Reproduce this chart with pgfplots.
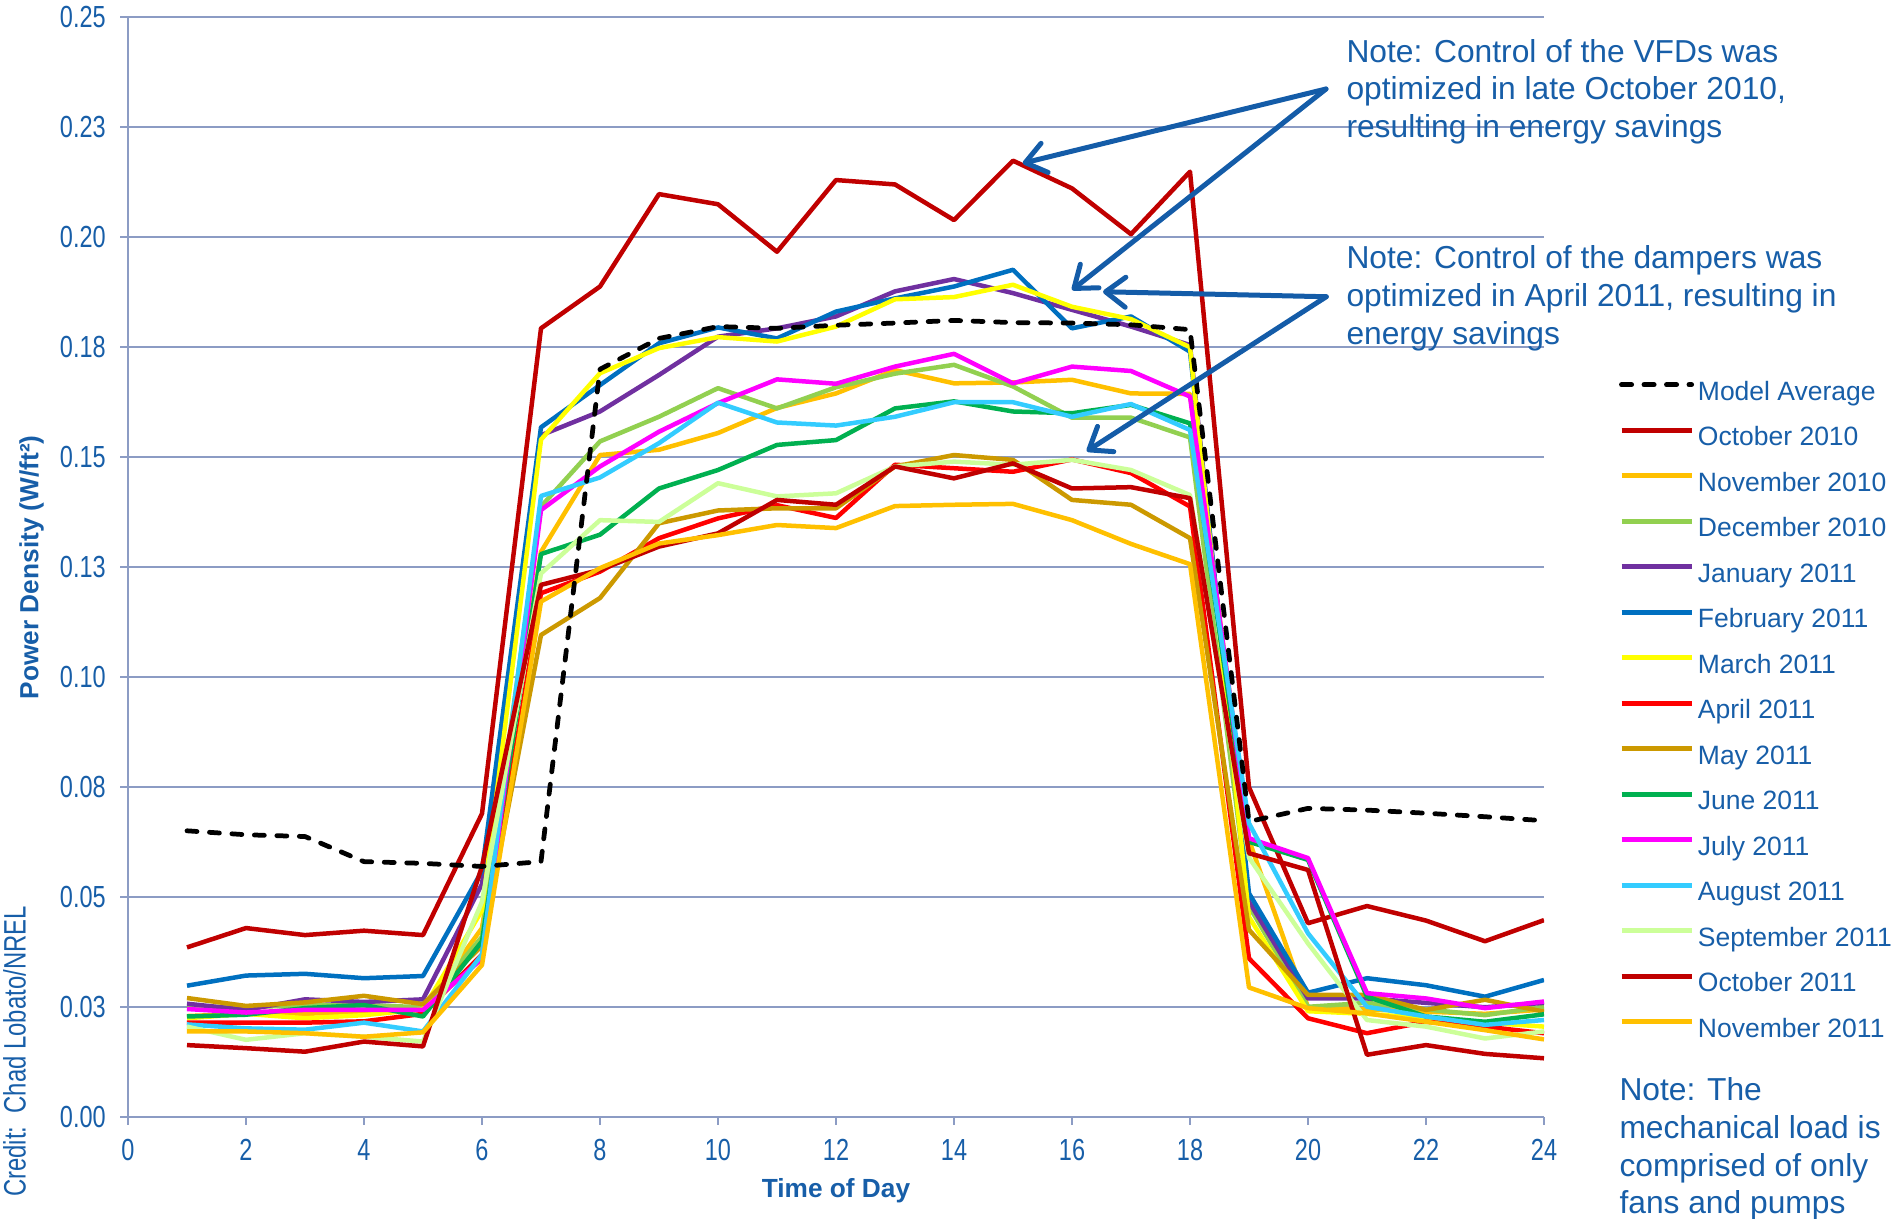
\documentclass[border=0pt]{standalone}
\usepackage{fontspec}
\setmainfont{Liberation Sans}
\newfontfamily\narrowfont[FakeStretch=0.77]{Liberation Sans}
\usepackage{pgfplots}
\pgfplotsset{compat=1.18}
\usepackage{pgfplotstable}
\usetikzlibrary{arrows.meta}

\definecolor{txtblue}{RGB}{23,94,168}
\definecolor{arrowc}{RGB}{20,92,168}
\definecolor{gridc}{RGB}{140,156,196}
\definecolor{oct}{RGB}{192,0,0}
\definecolor{nov}{RGB}{255,192,0}
\definecolor{dec}{RGB}{146,208,80}
\definecolor{jan}{RGB}{112,48,160}
\definecolor{feb}{RGB}{0,112,192}
\definecolor{mar}{RGB}{255,255,0}
\definecolor{apr}{RGB}{255,0,0}
\definecolor{may}{RGB}{204,153,0}
\definecolor{jun}{RGB}{0,176,80}
\definecolor{jul}{RGB}{255,0,255}
\definecolor{aug}{RGB}{51,204,255}
\definecolor{sep}{RGB}{204,255,153}

% hourly mechanical power density, W/ft2
\pgfplotstableread{
h  model  oct10  nov10  dec10  jan11  feb11  mar11  apr11  may11  jun11  jul11  aug11  sep11  oct11  nov11
1  0.0651 0.0386 0.0230 0.0252 0.0258 0.0299 0.0225 0.0215 0.0271 0.0229 0.0246 0.0211 0.0206 0.0164 0.0195
2  0.0642 0.0430 0.0235 0.0250 0.0244 0.0322 0.0235 0.0215 0.0253 0.0233 0.0238 0.0202 0.0176 0.0157 0.0195
3  0.0638 0.0414 0.0235 0.0255 0.0268 0.0326 0.0225 0.0215 0.0261 0.0248 0.0244 0.0199 0.0191 0.0149 0.0191
4  0.0581 0.0424 0.0240 0.0255 0.0262 0.0316 0.0232 0.0218 0.0276 0.0255 0.0244 0.0215 0.0183 0.0172 0.0183
5  0.0577 0.0414 0.0245 0.0250 0.0268 0.0321 0.0245 0.0235 0.0257 0.0229 0.0244 0.0195 0.0172 0.0161 0.0193
6  0.0570 0.0690 0.0430 0.0410 0.0530 0.0560 0.0470 0.0370 0.0390 0.0400 0.0360 0.0370 0.0490 0.0570 0.0346
7  0.0581 0.1793 0.1285 0.1388 0.1550 0.1568 0.1540 0.1191 0.1096 0.1280 0.1380 0.1412 0.1236 0.1210 0.1172
8  0.1700 0.1888 0.1505 0.1536 0.1604 0.1664 0.1691 0.1240 0.1180 0.1324 0.1479 0.1454 0.1357 0.1244 0.1248
9  0.1770 0.2098 0.1517 0.1592 0.1687 0.1759 0.1748 0.1316 0.1350 0.1429 0.1558 0.1532 0.1353 0.1297 0.1304
10 0.1797 0.2075 0.1555 0.1657 0.1774 0.1795 0.1773 0.1361 0.1379 0.1471 0.1623 0.1624 0.1441 0.1327 0.1323
11 0.1793 0.1967 0.1612 0.1611 0.1793 0.1770 0.1763 0.1391 0.1384 0.1528 0.1677 0.1579 0.1411 0.1403 0.1346
12 0.1800 0.2130 0.1645 0.1659 0.1820 0.1831 0.1797 0.1362 0.1384 0.1539 0.1667 0.1572 0.1418 0.1392 0.1339
13 0.1805 0.2120 0.1698 0.1690 0.1877 0.1861 0.1859 0.1483 0.1479 0.1611 0.1706 0.1592 0.1479 0.1479 0.1389
14 0.1811 0.2039 0.1668 0.1710 0.1905 0.1888 0.1864 0.1475 0.1505 0.1627 0.1735 0.1625 0.1490 0.1452 0.1392
15 0.1806 0.2174 0.1670 0.1661 0.1873 0.1926 0.1892 0.1467 0.1494 0.1604 0.1668 0.1625 0.1483 0.1486 0.1394
16 0.1805 0.2111 0.1676 0.1590 0.1835 0.1793 0.1842 0.1495 0.1403 0.1600 0.1706 0.1592 0.1494 0.1429 0.1357
17 0.1801 0.2007 0.1645 0.1590 0.1797 0.1820 0.1814 0.1464 0.1392 0.1619 0.1696 0.1621 0.1471 0.1432 0.1303
18 0.1790 0.2149 0.1644 0.1545 0.1755 0.1740 0.1750 0.1388 0.1316 0.1577 0.1638 0.1562 0.1414 0.1407 0.1257
19 0.0672 0.0750 0.0630 0.0480 0.0490 0.0509 0.0455 0.0361 0.0426 0.0626 0.0634 0.0668 0.0590 0.0600 0.0295
20 0.0702 0.0441 0.0250 0.0251 0.0270 0.0283 0.0241 0.0225 0.0278 0.0585 0.0589 0.0418 0.0395 0.0562 0.0248
21 0.0698 0.0480 0.0245 0.0260 0.0270 0.0316 0.0235 0.0191 0.0278 0.0274 0.0282 0.0251 0.0221 0.0142 0.0236
22 0.0691 0.0447 0.0240 0.0245 0.0260 0.0300 0.0225 0.0217 0.0244 0.0229 0.0270 0.0229 0.0206 0.0164 0.0217
23 0.0683 0.0400 0.0235 0.0232 0.0250 0.0274 0.0215 0.0206 0.0267 0.0217 0.0248 0.0210 0.0179 0.0144 0.0198
24 0.0674 0.0448 0.0245 0.0251 0.0260 0.0312 0.0206 0.0191 0.0240 0.0234 0.0263 0.0221 0.0195 0.0134 0.0177
}\loadtable

\tikzset{modeldash/.style={black, line width=1.9pt, dash pattern=on 4pt off 5pt, line cap=round}}

\begin{document}
\begin{tikzpicture}
\begin{axis}[
    at={(51.2pt,40.3pt)}, anchor=south west,
    scale only axis, width=566.4pt, height=440pt,
    xmin=0, xmax=24, ymin=0, ymax=0.25,
    axis x line*=bottom, axis y line*=left,
    axis line style={gridc, line width=0.9pt, -},
    xtick={0,2,4,6,8,10,12,14,16,18,20,22,24},
    xticklabels={0,2,4,6,8,10,12,14,16,18,20,22,24},
    ytick={0,0.025,0.05,0.075,0.1,0.125,0.15,0.175,0.2,0.225,0.25},
    yticklabels={0.00,0.03,0.05,0.08,0.10,0.13,0.15,0.18,0.20,0.23,0.25},
    tick align=outside, major tick length=3pt,
    major tick style={gridc, line width=0.9pt},
    ymajorgrids, grid style={gridc, line width=0.9pt},
    tick label style={font=\narrowfont\fontsize{12.2}{13}\selectfont, text=txtblue},
    yticklabel style={xshift=-2.4pt},
    xticklabel style={yshift=-2.2pt},
    xlabel={Time of Day},
    ylabel={Power Density (W/ft²)},
    label style={font=\bfseries\fontsize{10.5}{12}\selectfont, text=txtblue},
    xlabel style={at={(axis description cs:0.5,-0.0668)}, anchor=center},
    ylabel style={at={(axis description cs:-0.0681,0.5)}, anchor=center},
    every axis plot/.append style={line width=1.8pt, line join=round},
    legend cell align=left,
    legend style={
        at={(axis description cs:1.053,0.6689)}, anchor=north west,
        draw=none, fill=none, inner sep=0pt, outer sep=0pt,
        row sep=8.4pt,
        font=\fontsize{10.6}{12}\selectfont,
        nodes={inner sep=0pt, text height=7.6pt, text depth=2.2pt, text=txtblue},
    },
    legend image code/.code={
        \draw[#1, line width=2pt] (0pt,3.6pt) -- (28pt,3.6pt);
        \path (29.6pt,0pt);
    },
]
\addlegendimage{modeldash}
\addlegendentry{Model Average}
\addplot[oct] table[x=h,y=oct10]{\loadtable};
\addlegendentry{October 2010}
\addplot[nov] table[x=h,y=nov10]{\loadtable};
\addlegendentry{November 2010}
\addplot[dec] table[x=h,y=dec10]{\loadtable};
\addlegendentry{December 2010}
\addplot[jan] table[x=h,y=jan11]{\loadtable};
\addlegendentry{January 2011}
\addplot[feb] table[x=h,y=feb11]{\loadtable};
\addlegendentry{February 2011}
\addplot[mar] table[x=h,y=mar11]{\loadtable};
\addlegendentry{March 2011}
\addplot[apr] table[x=h,y=apr11]{\loadtable};
\addlegendentry{April 2011}
\addplot[may] table[x=h,y=may11]{\loadtable};
\addlegendentry{May 2011}
\addplot[jun] table[x=h,y=jun11]{\loadtable};
\addlegendentry{June 2011}
\addplot[jul] table[x=h,y=jul11]{\loadtable};
\addlegendentry{July 2011}
\addplot[aug] table[x=h,y=aug11]{\loadtable};
\addlegendentry{August 2011}
\addplot[sep] table[x=h,y=sep11]{\loadtable};
\addlegendentry{September 2011}
\addplot[oct] table[x=h,y=oct11]{\loadtable};
\addlegendentry{October 2011}
\addplot[nov] table[x=h,y=nov11]{\loadtable};
\addlegendentry{November 2011}
\addplot[modeldash, forget plot] table[x=h,y=model]{\loadtable};
\end{axis}

% annotation arrows
\begin{scope}[arrowc, line width=2pt, line cap=round,
    -{Straight Barb[length=8pt,width=12pt,round]}]
\draw (530.4pt,451.6pt) -- (409.1pt,421.9pt);
\draw (530.4pt,451.6pt) -- (428.8pt,371.2pt);
\draw (530.5pt,368.5pt) -- (441.2pt,370.5pt);
\draw (530.5pt,368.5pt) -- (434.7pt,306.7pt);
\end{scope}

\begin{scope}[every node/.style={anchor=base west, inner sep=0pt, text=txtblue,
    font=\fontsize{12.7}{15}\selectfont}]
\node at (538.4pt,462.3pt) {Note: Control of the VFDs was};
\node at (538.4pt,447.2pt) {optimized in late October 2010,};
\node at (538.4pt,432.2pt) {resulting in energy savings};
\node at (538.4pt,379.6pt) {Note: Control of the dampers was};
\node at (538.4pt,364.5pt) {optimized in April 2011, resulting in};
\node at (538.4pt,349.2pt) {energy savings};
\node at (647.6pt,47.2pt) {Note: The};
\node at (647.6pt,31.9pt) {mechanical load is};
\node at (647.6pt,16.5pt) {comprised of only};
\node at (647.6pt,2.0pt) {fans and pumps};
\end{scope}

\node[rotate=90, inner sep=0pt, text=txtblue, font=\narrowfont\fontsize{12.4}{13}\selectfont]
    at (5.8pt,66.6pt) {Credit:\ \ Chad Lobato/NREL};

\pgfresetboundingbox
\path[use as bounding box] (0pt,0pt) rectangle (757.2pt,487.2pt);
\end{tikzpicture}
\end{document}
